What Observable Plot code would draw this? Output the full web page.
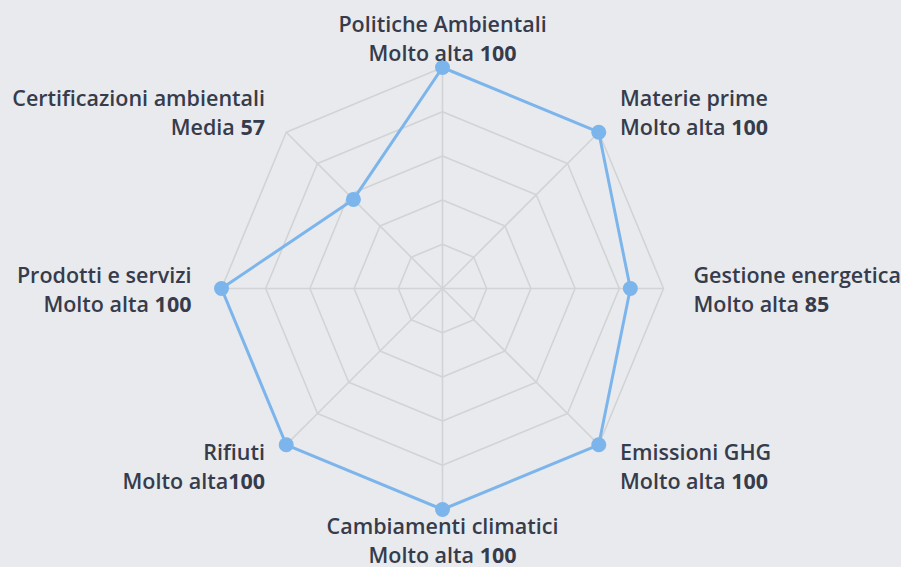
<!DOCTYPE html>
<html><head><meta charset="utf-8">
<script src="https://cdn.jsdelivr.net/npm/d3@7"></script>
<script src="https://cdn.jsdelivr.net/npm/@observablehq/plot@0.6"></script>
<style>
html,body{margin:0;padding:0;background:#e9eaed;}
#chart svg{display:block;}
</style></head><body><div id="chart"></div>
<script>
const categories = ["Politiche Ambientali","Materie prime","Gestione energetica","Emissioni GHG","Cambiamenti climatici","Rifiuti","Prodotti e servizi","Certificazioni ambientali"];
const values = [100,100,85,100,100,100,100,57];
const levels = ["Molto alta ","Molto alta ","Molto alta ","Molto alta ","Molto alta ","Molto alta","Molto alta ","Media "];
const gridLevels = [20,40,60,80,100];
const maxValue = 100;

const W = 901, H = 567, cx = 442, cy = 288, R = 221;
const k = R / maxValue;
const n = categories.length;
const angle = i => 2 * Math.PI * i / n;
const polar = (r, a) => ({x: r * Math.sin(a), y: r * Math.cos(a)});

const pts = categories.map((c, i) => ({cat: c, value: values[i], ...polar(values[i], angle(i))}));
const rings = gridLevels.flatMap(l => categories.map((c, i) => ({level: l, ...polar(l, angle(i))})));
const spokes = categories.map((c, i) => polar(maxValue, angle(i)));
const labels = categories.map((c, i) => {
  const a = angle(i), s = Math.sin(a), co = Math.cos(a);
  const v = polar(maxValue, a);
  const center = v.y - (9 - 30 * co) / k;
  const anchor = s > 0.1 ? "start" : s < -0.1 ? "end" : "middle";
  return {name: c, second: levels[i] + values[i], anchor, x: v.x + 30 * s / k, y1: center + 14.5 / k, y2: center - 14.5 / k};
});

const textStyle = {fontFamily: "'Open Sans', sans-serif", fontSize: 21.5, fontWeight: 600, fill: "#363c4b", lineAnchor: "bottom"};
const labelMarks = ["start", "middle", "end"].flatMap(anchor => [
  Plot.text(labels, {filter: d => d.anchor === anchor, x: "x", y: "y1", text: "name", textAnchor: anchor, ...textStyle}),
  Plot.text(labels, {filter: d => d.anchor === anchor, x: "x", y: "y2", text: "second", textAnchor: anchor, ...textStyle})
]);

const gridColor = "#d2d3d5";
const chart = Plot.plot({
  width: W, height: H, margin: 0,
  x: {domain: [-cx / k, (W - cx) / k], axis: null},
  y: {domain: [-(H - cy) / k, cy / k], axis: null},
  style: {background: "transparent", overflow: "visible"},
  marks: [
    Plot.line(rings, {x: "x", y: "y", z: "level", curve: "linear-closed", stroke: gridColor, strokeWidth: 1.6}),
    Plot.link(spokes, {x1: 0, y1: 0, x2: "x", y2: "y", stroke: gridColor, strokeWidth: 1.6}),
    Plot.line(pts, {x: "x", y: "y", curve: "linear-closed", stroke: "#7cb5ec", strokeWidth: 3}),
    Plot.dot(pts, {x: "x", y: "y", r: 7.5, fill: "#7cb5ec"}),
    ...labelMarks
  ]
});

const NS = "http://www.w3.org/2000/svg";
chart.querySelectorAll("text").forEach(t => {
  const m = t.textContent.match(/^(.*?)(\d+)$/);
  if (!m) return;
  t.textContent = "";
  const a = document.createElementNS(NS, "tspan");
  a.textContent = m[1];
  const b = document.createElementNS(NS, "tspan");
  b.setAttribute("font-weight", "700");
  b.textContent = m[2];
  t.append(a, b);
});
document.getElementById("chart").append(chart);
</script></body></html>
